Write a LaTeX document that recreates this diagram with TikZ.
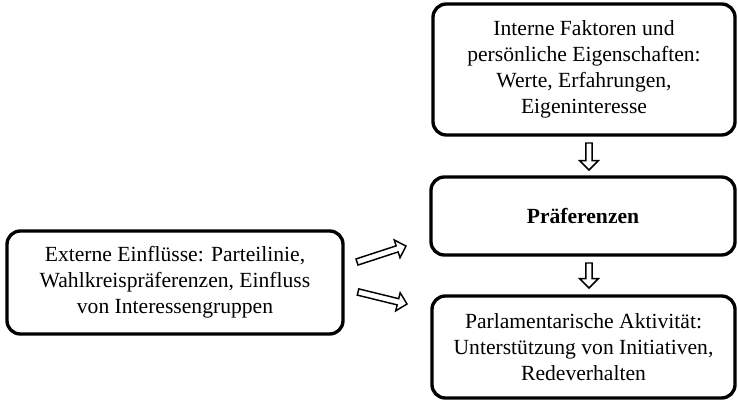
\documentclass[tikz,border=0pt]{standalone}
\usepackage{fontspec}
\setmainfont{Liberation Serif}
\usetikzlibrary{calc}

% hollow block arrow from one named point to another
\newcommand{\blockarrow}[2]{%
	\path let \p1=($(#2)-(#1)$), \n1={atan2(\y1,\x1)}, \n2={veclen(\x1,\y1)} in
	\pgfextra{\xdef\arrang{\n1}\xdef\arrlen{\n2}};
	\draw[myarrow, shift={(#1)}, rotate=\arrang]
	(0pt,-2.4pt) -- ({\arrlen-7pt},-2.4pt) -- ({\arrlen-7pt},-7pt)
	-- (\arrlen,0pt) -- ({\arrlen-7pt},7pt) -- ({\arrlen-7pt},2.4pt)
	-- (0pt,2.4pt) -- cycle;
}

\begin{document}
\begin{tikzpicture}[x=0.75pt,y=-0.75pt]
	
	\tikzstyle{mybox}=[rectangle,
	draw=black,
	line width=2.5pt,
	rounded corners=10pt,
	align=center,
	inner sep=0pt,
	font=\fontsize{16.2}{19.5}\selectfont
	]
	\tikzstyle{myarrow}=[draw=black, line width=1.1pt, line join=miter, fill=white]
	
	\useasboundingbox (0,0) rectangle (738,402);
	
	\coordinate (pintern) at (584, 69.5);
	\coordinate (ppref) at (583, 216);
	\coordinate (pakt) at (583.5, 347);
	\coordinate (pextern) at (175, 282.5);
	
	\node[mybox, minimum width=226.5pt, minimum height=98.25pt] (intern) at (pintern)
	{Interne Faktoren und\\persönliche Eigenschaften:\\Werte, Erfahrungen,\\Eigeninteresse};
	\node[mybox, minimum width=228pt, minimum height=58.5pt] (pref) at (ppref)
	{\textbf{Präferenzen}};
	\node[mybox, minimum width=227.25pt, minimum height=76.5pt] (akt) at (pakt)
	{Parlamentarische Aktivität:\\Unterstützung von Initiativen,\\Redeverhalten};
	\node[mybox, minimum width=252pt, minimum height=77.25pt] (extern) at (pextern)
	{Externe Einflüsse: Parteilinie,\\Wahlkreispräferenzen, Einfluss\\von Interessengruppen};
	
	\coordinate (d1s) at (589, 143);
	\coordinate (d1e) at (589, 170);
	\coordinate (d2s) at (589, 263);
	\coordinate (d2e) at (589, 288);
	\coordinate (e1s) at (357, 262);
	\coordinate (e1e) at (406, 246);
	\coordinate (e2s) at (358, 292);
	\coordinate (e2e) at (407, 304);
	
	\blockarrow{d1s}{d1e}
	\blockarrow{d2s}{d2e}
	\blockarrow{e1s}{e1e}
	\blockarrow{e2s}{e2e}
	
\end{tikzpicture}
\end{document}
